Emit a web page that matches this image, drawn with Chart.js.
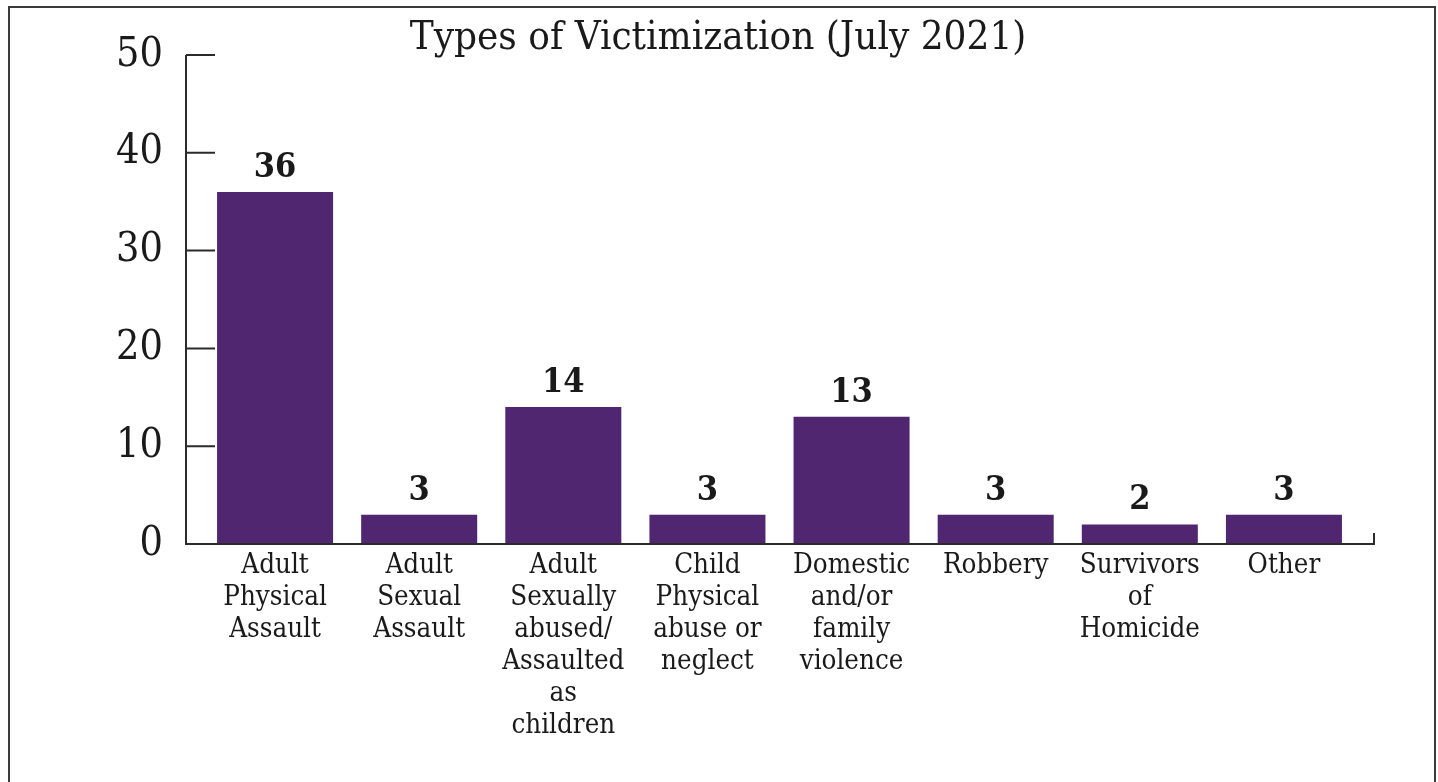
<!DOCTYPE html>
<html>
<head>
<meta charset="utf-8">
<script src="https://cdn.jsdelivr.net/npm/chart.js@4/dist/chart.umd.min.js"></script>
<style>
  html, body { margin: 0; padding: 0; background: #fff; overflow: hidden; }
  #frame {
    position: absolute; left: 8px; top: 6px; width: 1424px; height: 800px;
    border: 2px solid #3a3a3a;
  }
  #wrap { position: absolute; left: 0; top: 0; width: 1438px; height: 782px; }
</style>
</head>
<body>
<div id="frame"></div>
<div id="wrap"><canvas id="victimChart" width="1438" height="782"></canvas></div>
<script>
// categories and counts
const categories = [
  ['Adult', 'Physical', 'Assault'],
  ['Adult', 'Sexual', 'Assault'],
  ['Adult', 'Sexually', 'abused/', 'Assaulted', 'as', 'children'],
  ['Child', 'Physical', 'abuse or', 'neglect'],
  ['Domestic', 'and/or', 'family', 'violence'],
  ['Robbery'],
  ['Survivors', 'of', 'Homicide'],
  ['Other']
];
const counts = [36, 3, 14, 3, 13, 3, 2, 3];
const yTicks = [0, 10, 20, 30, 40, 50];

const serif = '"DejaVu Serif Condensed", "DejaVu Serif", serif';
const inkColor = '#2b2b2b';
const barColor = '#502671';

// axis lines drawn a little outside the category band, with inward ticks on y
const axisLines = {
  id: 'axisLines',
  afterDatasetsDraw(chart) {
    const ctx = chart.ctx;
    const area = chart.chartArea;
    const y = chart.scales.y;
    const left = area.left - 17;
    const right = area.right + 18;
    const zero = y.getPixelForValue(0);
    ctx.save();
    ctx.strokeStyle = inkColor;
    ctx.lineWidth = 2;
    ctx.beginPath();
    ctx.moveTo(left, y.getPixelForValue(yTicks[yTicks.length - 1]));
    ctx.lineTo(left, zero);
    ctx.lineTo(right, zero);
    ctx.lineTo(right, zero - 11);
    yTicks.forEach(t => {
      if (t === 0) return;
      const py = y.getPixelForValue(t);
      ctx.moveTo(left, py);
      ctx.lineTo(left + 29, py);
    });
    ctx.stroke();
    ctx.restore();
  }
};

// value labels above each bar
const barValues = {
  id: 'barValues',
  afterDatasetsDraw(chart) {
    const ctx = chart.ctx;
    const meta = chart.getDatasetMeta(0);
    ctx.save();
    ctx.fillStyle = '#1a1a1a';
    ctx.font = 'bold 34px ' + serif;
    ctx.textAlign = 'center';
    ctx.textBaseline = 'alphabetic';
    meta.data.forEach((bar, i) => {
      ctx.fillText(String(counts[i]), bar.x, bar.y - 15);
    });
    ctx.restore();
  }
};

new Chart(document.getElementById('victimChart'), {
  type: 'bar',
  data: {
    labels: categories,
    datasets: [{
      data: counts,
      backgroundColor: barColor,
      borderWidth: 0,
      categoryPercentage: 1,
      barPercentage: 0.805
    }]
  },
  options: {
    responsive: false,
    animation: false,
    layout: { padding: { left: 80, right: 82, top: 0, bottom: 0 } },
    plugins: {
      legend: { display: false },
      tooltip: { enabled: false },
      title: {
        display: true,
        text: 'Types of Victimization (July 2021)',
        color: '#1a1a1a',
        font: { family: serif, size: 40, weight: 'normal', lineHeight: 0.8 },
        padding: { top: 23, bottom: 0 }
      }
    },
    scales: {
      x: {
        grid: { display: false, drawTicks: false },
        border: { display: false },
        ticks: {
          color: '#1a1a1a',
          font: { family: serif, size: 27.5, lineHeight: 1.164 },
          padding: 6,
          autoSkip: false,
          maxRotation: 0,
          minRotation: 0
        },
        afterFit(scale) { scale.height = 238; }
      },
      y: {
        min: 0,
        max: 50,
        // tick length only spaces the labels away from the axis
        grid: { display: false, drawTicks: true, tickLength: 34 },
        border: { display: false },
        ticks: {
          stepSize: 10,
          color: '#1a1a1a',
          font: { family: serif, size: 41 },
          padding: 6
        },
        afterFit(scale) { scale.width = 123; }
      }
    }
  },
  plugins: [axisLines, barValues]
});
</script>
</body>
</html>
